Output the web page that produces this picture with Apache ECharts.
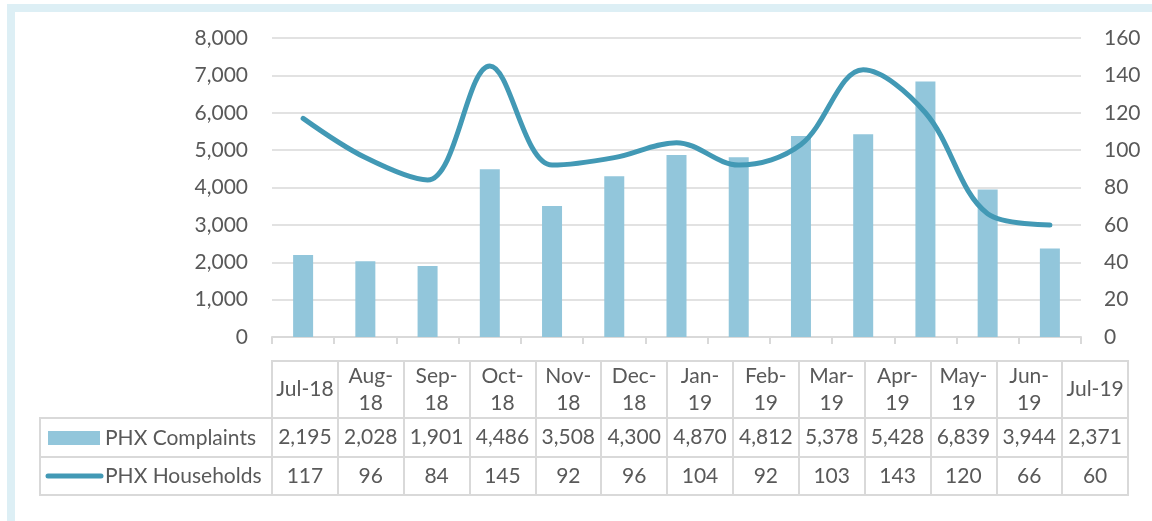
<!DOCTYPE html>
<html>
<head>
<meta charset="utf-8">
<script src="https://cdn.jsdelivr.net/npm/echarts@6/dist/echarts.min.js"></script>
<style>
  html, body {margin: 0; padding: 0; background: #fff;}
  #main {width: 1152px; height: 521px;}
</style>
</head>
<body>
<div id="main"></div>
<script>
const months = ["Jul-18", "Aug-18", "Sep-18", "Oct-18", "Nov-18", "Dec-18", "Jan-19",
  "Feb-19", "Mar-19", "Apr-19", "May-19", "Jun-19", "Jul-19"];
const complaints = [2195, 2028, 1901, 4486, 3508, 4300, 4870, 4812, 5378, 5428, 6839, 3944, 2371];
const households = [117, 96, 84, 145, 92, 96, 104, 92, 103, 143, 120, 66, 60];
const leftTicks = {min: 0, max: 8000, interval: 1000};
const rightTicks = {min: 0, max: 160, interval: 20};

const FONT = "Lato";
const FS = 21;
const TXT = "#595959";
const GRID = "#d9d9d9";
const BAR = "#92c6db";
const LINE = "#4299b5";

const fmt = v => v.toLocaleString("en-US");
// header: the first and last months fit on one line, the rest wrap at the dash
const headerLabel = (m, i) =>
  (i === 0 || i === months.length - 1) ? m : m.replace("-", "-\n");

const chart = echarts.init(document.getElementById("main"));

// table rows are extra category axes stacked on the second grid
const tableAxis = (data, offset, margin, extra) => Object.assign({
  type: "category",
  gridIndex: 1,
  position: "bottom",
  offset: offset,
  data: data,
  axisLine: {show: true, lineStyle: {color: GRID, width: 2}},
  axisTick: {show: false},
  splitLine: {show: false},
  axisLabel: {
    margin: margin,
    verticalAlign: "middle",
    color: TXT,
    fontFamily: FONT,
    fontSize: FS,
    lineHeight: 27,
    interval: 0,
  },
}, extra || {});

chart.setOption({
  animation: false,
  textStyle: {fontFamily: FONT},
  grid: [
    {left: 272, right: 71, top: 38, bottom: 184},
    {left: 272, right: 24, top: 361, bottom: 26, show: true, borderColor: GRID, borderWidth: 2},
  ],
  xAxis: [
    {
      type: "category",
      gridIndex: 0,
      data: months,
      axisLine: {lineStyle: {color: GRID, width: 2}},
      axisTick: {show: true, length: 7, lineStyle: {color: GRID, width: 2}},
      axisLabel: {show: false},
    },
    tableAxis(months, -134, 28.5, {
      axisLabel: {
        margin: 28.5, verticalAlign: "middle", color: TXT, fontFamily: FONT,
        fontSize: FS, lineHeight: 27, interval: 0, formatter: headerLabel,
      },
      splitLine: {show: true, interval: 0, lineStyle: {color: GRID, width: 2}},
    }),
    tableAxis(complaints.map(fmt), -77, 19.5),
    tableAxis(households.map(String), -38, 19),
  ],
  yAxis: [
    {
      type: "value",
      gridIndex: 0,
      ...leftTicks,
      axisLine: {show: false},
      axisTick: {show: false},
      splitLine: {lineStyle: {color: GRID, width: 1.5}},
      axisLabel: {color: TXT, fontFamily: FONT, fontSize: FS, margin: 24, formatter: fmt},
    },
    {
      type: "value",
      gridIndex: 0,
      position: "right",
      ...rightTicks,
      axisLine: {show: false},
      axisTick: {show: false},
      splitLine: {show: false},
      axisLabel: {color: TXT, fontFamily: FONT, fontSize: FS, margin: 23},
    },
    {type: "value", gridIndex: 1, show: false},
  ],
  series: [
    {
      name: "PHX Complaints",
      type: "bar",
      xAxisIndex: 0,
      yAxisIndex: 0,
      data: complaints,
      barWidth: 20,
      itemStyle: {color: BAR},
    },
    {
      name: "PHX Households",
      type: "line",
      xAxisIndex: 0,
      yAxisIndex: 1,
      data: households,
      smooth: 0.35,
      symbol: "none",
      lineStyle: {color: LINE, width: 5, cap: "round"},
    },
  ],
  graphic: [
    // light blue frame around the whole chart
    {type: "rect", shape: {x: 11, y: 8, width: 1200, height: 600},
      style: {fill: null, stroke: "#ddeff5", lineWidth: 8}},
    // legend cells of the data table
    {type: "rect", shape: {x: 40, y: 418, width: 232, height: 77},
      style: {fill: null, stroke: GRID, lineWidth: 2}},
    {type: "line", shape: {x1: 40, y1: 457, x2: 272, y2: 457},
      style: {stroke: GRID, lineWidth: 2}},
    {type: "rect", shape: {x: 48, y: 431, width: 52, height: 14}, style: {fill: BAR}},
    {type: "line", shape: {x1: 48, y1: 476, x2: 101, y2: 476},
      style: {stroke: LINE, lineWidth: 5, lineCap: "round"}},
    {type: "text", x: 105, y: 438,
      style: {text: "PHX Complaints", fill: TXT, font: FS + "px " + FONT, textVerticalAlign: "middle"}},
    {type: "text", x: 105, y: 476,
      style: {text: "PHX Households", fill: TXT, font: FS + "px " + FONT, textVerticalAlign: "middle"}},
  ],
});
</script>
</body>
</html>
